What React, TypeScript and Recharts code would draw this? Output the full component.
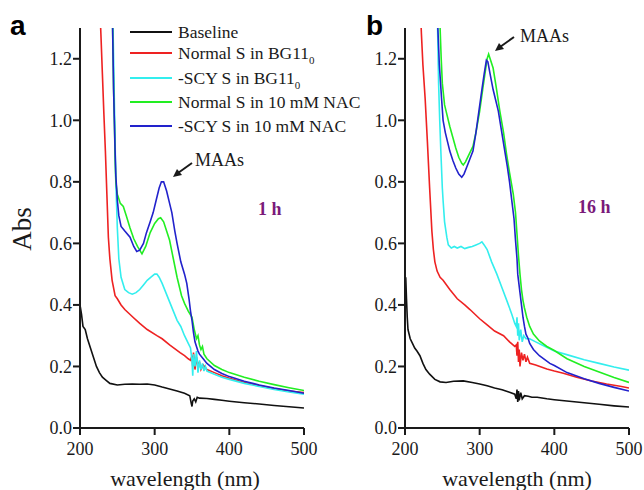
import React from 'react';
import { LineChart, Line, XAxis, YAxis } from 'recharts';

type Pt = [number, number];

// panel a (1 h)
const aBaseline: Pt[] = [
  [200, 0.40], [202, 0.37], [204, 0.33], [207, 0.32], [210, 0.29], [214, 0.26], [218, 0.23], [222, 0.20],
  [226, 0.18], [230, 0.165], [235, 0.155], [240, 0.145], [250, 0.14], [260, 0.142], [270, 0.143], [280, 0.142],
  [290, 0.143], [300, 0.14], [310, 0.133], [320, 0.127], [330, 0.12], [340, 0.113], [347, 0.105], [349, 0.08],
  [350, 0.07], [351, 0.088], [353, 0.095], [355, 0.085], [357, 0.1], [360, 0.097], [370, 0.096], [380, 0.093],
  [390, 0.09], [400, 0.087], [420, 0.082], [440, 0.078], [460, 0.073], [480, 0.069], [500, 0.065],
];
const aNormalBg: Pt[] = [
  [226, 1.40], [228, 1.28], [230, 1.15], [232, 1.02], [234, 0.9], [236, 0.76], [238, 0.62], [240, 0.55],
  [243, 0.48], [247, 0.43], [250, 0.42], [255, 0.40], [260, 0.385], [271, 0.36], [280, 0.34], [290, 0.32],
  [303, 0.30], [310, 0.29], [320, 0.27], [334, 0.245], [340, 0.235], [345, 0.225], [348, 0.22], [350, 0.235],
  [351, 0.20], [352, 0.245], [354, 0.19], [356, 0.23], [358, 0.20], [360, 0.215], [362, 0.19], [365, 0.205],
  [370, 0.19], [380, 0.18], [390, 0.17], [400, 0.162], [420, 0.148], [440, 0.138], [460, 0.128], [480, 0.12],
  [500, 0.115],
];
const aScyBg: Pt[] = [
  [243.5, 1.40], [245, 1.2], [246.5, 1.0], [248, 0.8], [250, 0.65], [252, 0.55], [255, 0.49], [260, 0.45],
  [265, 0.44], [270, 0.435], [275, 0.44], [280, 0.45], [285, 0.465], [290, 0.48], [295, 0.49], [300, 0.50],
  [303, 0.50], [306, 0.49], [310, 0.47], [315, 0.44], [320, 0.41], [325, 0.38], [330, 0.35], [335, 0.33],
  [340, 0.30], [345, 0.275], [348, 0.26], [350, 0.22], [351, 0.17], [352, 0.24], [354, 0.20], [356, 0.25],
  [358, 0.18], [360, 0.22], [362, 0.19], [364, 0.21], [366, 0.185], [368, 0.2], [370, 0.185], [380, 0.175],
  [390, 0.165], [400, 0.158], [420, 0.145], [440, 0.135], [460, 0.125], [480, 0.117], [500, 0.11],
];
const aNormalNac: Pt[] = [
  [243, 1.40], [244, 1.25], [245, 1.10], [246, 1.0], [247, 0.88], [248, 0.8], [250, 0.76], [254, 0.73],
  [258, 0.72], [262, 0.69], [267, 0.65], [272, 0.615], [277, 0.59], [280, 0.578], [283, 0.566], [288, 0.59],
  [294, 0.635], [300, 0.665], [305, 0.68], [308, 0.683], [312, 0.67], [316, 0.64], [320, 0.61], [325, 0.55],
  [330, 0.49], [336, 0.43], [340, 0.405], [345, 0.38], [350, 0.36], [353, 0.32], [356, 0.29], [358, 0.30],
  [360, 0.27], [362, 0.255], [364, 0.265], [366, 0.24], [370, 0.225], [380, 0.203], [390, 0.19], [400, 0.18],
  [420, 0.165], [440, 0.152], [460, 0.141], [480, 0.131], [500, 0.122],
];
const aScyNac: Pt[] = [
  [243, 1.40], [244, 1.25], [245, 1.10], [246, 1.0], [247, 0.9], [248, 0.82], [250, 0.74], [252, 0.69],
  [255, 0.655], [260, 0.64], [267, 0.62], [272, 0.59], [276, 0.574], [280, 0.578], [285, 0.60], [289, 0.635],
  [294, 0.67], [298, 0.70], [302, 0.74], [306, 0.78], [309, 0.80], [312, 0.80], [316, 0.77], [320, 0.73],
  [323, 0.70], [327, 0.64], [330, 0.60], [335, 0.54], [340, 0.50], [343, 0.47], [346, 0.42], [348, 0.38],
  [350, 0.35], [352, 0.31], [354, 0.28], [356, 0.265], [358, 0.25], [360, 0.24], [365, 0.225], [370, 0.21],
  [380, 0.19], [390, 0.177], [400, 0.167], [420, 0.152], [440, 0.14], [460, 0.13], [480, 0.122], [500, 0.113],
];

// panel b (16 h)
const bBaseline: Pt[] = [
  [200, 0.45], [201, 0.49], [202, 0.42], [203, 0.36], [204, 0.32], [207, 0.29], [210, 0.275], [213, 0.26],
  [216, 0.25], [220, 0.235], [224, 0.21], [228, 0.19], [233, 0.175], [240, 0.158], [247, 0.15], [255, 0.148],
  [265, 0.152], [278, 0.153], [290, 0.148], [300, 0.143], [310, 0.137], [320, 0.13], [330, 0.124], [340, 0.116],
  [347, 0.11], [349, 0.095], [350, 0.125], [351, 0.085], [352, 0.12], [353, 0.09], [355, 0.115], [357, 0.095],
  [360, 0.105], [365, 0.103], [370, 0.1], [377, 0.1], [390, 0.095], [400, 0.092], [420, 0.087], [440, 0.082],
  [460, 0.077], [480, 0.072], [500, 0.068],
];
const bNormalBg: Pt[] = [
  [220, 1.40], [222, 1.28], [224, 1.18], [227, 1.07], [230, 0.93], [233, 0.78], [236, 0.64], [238, 0.58],
  [240, 0.54], [243, 0.51], [247, 0.49], [251, 0.48], [260, 0.45], [270, 0.42], [280, 0.40], [287, 0.385],
  [300, 0.355], [310, 0.335], [320, 0.315], [332, 0.30], [340, 0.28], [347, 0.265], [349, 0.27], [350, 0.235],
  [351, 0.28], [352, 0.215], [353, 0.255], [354, 0.20], [356, 0.245], [358, 0.22], [360, 0.24], [362, 0.215],
  [364, 0.23], [367, 0.21], [375, 0.205], [390, 0.192], [400, 0.185], [412, 0.178], [430, 0.165], [450, 0.153],
  [470, 0.143], [490, 0.135], [500, 0.13],
];
const bScyBg: Pt[] = [
  [243, 1.40], [244, 1.25], [245, 1.12], [246.5, 1.0], [248, 0.9], [250, 0.78], [251, 0.74], [253, 0.67],
  [256, 0.62], [258, 0.595], [262, 0.585], [266, 0.59], [270, 0.585], [275, 0.59], [280, 0.583], [285, 0.587],
  [290, 0.59], [295, 0.595], [300, 0.60], [303, 0.605], [306, 0.595], [310, 0.58], [316, 0.54], [323, 0.50],
  [330, 0.455], [337, 0.41], [343, 0.37], [347, 0.34], [349, 0.33], [350, 0.36], [351, 0.30], [352, 0.34],
  [353, 0.285], [355, 0.32], [357, 0.28], [359, 0.30], [362, 0.29], [367, 0.29], [375, 0.28], [385, 0.268],
  [400, 0.25], [420, 0.236], [440, 0.222], [460, 0.21], [480, 0.198], [500, 0.188],
];
const bNormalNac: Pt[] = [
  [246, 1.40], [247, 1.30], [248.5, 1.2], [250, 1.12], [253, 1.05], [256, 1.02], [260, 0.98], [264, 0.945],
  [268, 0.91], [272, 0.88], [276, 0.86], [278, 0.855], [281, 0.865], [285, 0.885], [291, 0.915], [295, 0.96],
  [300, 1.03], [304, 1.10], [307, 1.15], [310, 1.20], [312, 1.215], [314, 1.20], [318, 1.17], [322, 1.11],
  [327, 1.03], [332, 0.96], [336, 0.89], [340, 0.83], [345, 0.76], [348, 0.70], [350, 0.63], [352, 0.56],
  [354, 0.50], [356, 0.45], [358, 0.415], [360, 0.39], [363, 0.36], [367, 0.33], [372, 0.305], [380, 0.283],
  [390, 0.265], [400, 0.252], [417, 0.225], [440, 0.2], [460, 0.182], [480, 0.164], [500, 0.148],
];
const bScyNac: Pt[] = [
  [243, 1.40], [244, 1.30], [246, 1.18], [249, 1.07], [251, 1.0], [254, 0.96], [257, 0.93], [260, 0.90],
  [264, 0.87], [268, 0.845], [272, 0.825], [276, 0.815], [279, 0.825], [283, 0.85], [287, 0.875], [291, 0.90],
  [295, 0.96], [299, 1.03], [303, 1.10], [306, 1.15], [309, 1.195], [311, 1.19], [314, 1.15], [318, 1.10],
  [321, 1.07], [325, 1.03], [329, 0.97], [333, 0.91], [337, 0.85], [340, 0.80], [343, 0.74], [346, 0.68],
  [348, 0.61], [350, 0.55], [351, 0.50], [352, 0.48], [354, 0.44], [356, 0.40], [358, 0.36], [360, 0.33],
  [362, 0.305], [365, 0.29], [367, 0.275], [372, 0.255], [380, 0.235], [394, 0.21], [400, 0.203], [417, 0.18],
  [440, 0.16], [460, 0.145], [480, 0.132], [500, 0.12],
];

const seriesNames = [
  'Baseline',
  'Normal S in BG11',
  '-SCY S in BG11',
  'Normal S in 10 mM NAC',
  '-SCY S in 10 mM NAC',
];
const seriesColors = ['#111111', '#ee2222', '#33eeee', '#22ee22', '#2222cc'];
const panelA = [aBaseline, aNormalBg, aScyBg, aNormalNac, aScyNac];
const panelB = [bBaseline, bNormalBg, bScyBg, bNormalNac, bScyNac];

const xTicks = [200, 300, 400, 500];
const yTicks = [0, 0.2, 0.4, 0.6, 0.8, 1.0, 1.2];

const serif = '"Liberation Serif", "Times New Roman", serif';
const axisColor = '#1a1a1a';

const toRows = (pts: Pt[]) => pts.map(([wl, abs]) => ({ wl, abs }));

const Panel = ({ series, width }: { series: Pt[][]; width: number }) => (
  <LineChart width={width} height={490} margin={{ top: 28, right: width - 304, left: 30, bottom: 22 }}>
    <XAxis
      type="number"
      dataKey="wl"
      domain={[200, 500]}
      ticks={xTicks}
      allowDataOverflow
      height={40}
      tickSize={7}
      tickMargin={7}
      axisLine={{ stroke: axisColor, strokeWidth: 2 }}
      tickLine={{ stroke: axisColor, strokeWidth: 2 }}
      tick={{ fill: axisColor, fontSize: 18, fontFamily: serif }}
    />
    <YAxis
      type="number"
      domain={[0, 1.3]}
      ticks={yTicks}
      allowDataOverflow
      width={50}
      tickSize={7}
      tickMargin={1}
      tickFormatter={(v: number) => v.toFixed(1)}
      axisLine={{ stroke: axisColor, strokeWidth: 2 }}
      tickLine={{ stroke: axisColor, strokeWidth: 2 }}
      tick={{ fill: axisColor, fontSize: 18, fontFamily: serif }}
    />
    {series.map((pts, i) => (
      <Line
        key={seriesNames[i]}
        data={toRows(pts)}
        dataKey="abs"
        type="linear"
        stroke={seriesColors[i]}
        strokeWidth={1.6}
        dot={false}
        isAnimationActive={false}
      />
    ))}
  </LineChart>
);

const legendY = [32, 53, 78, 102, 126];

export default function App() {
  return (
    <div style={{ position: 'absolute', left: 0, top: 0, width: 644, height: 490, background: '#fff' }}>
      <div style={{ position: 'absolute', left: 0, top: 0 }}>
        <Panel series={panelA} width={320} />
      </div>
      <div style={{ position: 'absolute', left: 325, top: 0 }}>
        <Panel series={panelB} width={319} />
      </div>
      <svg
        width={644}
        height={490}
        style={{ position: 'absolute', left: 0, top: 0, pointerEvents: 'none' }}
      >
        <text x={10} y={35} fontFamily='"Liberation Sans", Arial, sans-serif' fontWeight="bold" fontSize={28}>a</text>
        <text x={366} y={35} fontFamily='"Liberation Sans", Arial, sans-serif' fontWeight="bold" fontSize={28}>b</text>
        <text
          x={0}
          y={0}
          transform="translate(31,229) rotate(-90)"
          textAnchor="middle"
          fontFamily={serif}
          fontSize={27}
          fill={axisColor}
        >
          Abs
        </text>
        <text x={185} y={486} textAnchor="middle" fontFamily={serif} fontSize={22} fill={axisColor}>wavelength (nm)</text>
        <text x={517} y={486} textAnchor="middle" fontFamily={serif} fontSize={22} fill={axisColor}>wavelength (nm)</text>

        {seriesNames.map((name, i) => (
          <g key={name}>
            <line x1={130} x2={172} y1={legendY[i]} y2={legendY[i]} stroke={seriesColors[i]} strokeWidth={2} />
            <text x={178} y={legendY[i] + 6} fontFamily={serif} fontSize={17.5} fill={axisColor}>
              {name}
              {(i === 1 || i === 2) && (
                <tspan dy={5} fontSize={11}>0</tspan>
              )}
            </text>
          </g>
        ))}

        <text x={195} y={166} fontFamily={serif} fontSize={18} fill={axisColor}>MAAs</text>
        <line x1={192} y1={163} x2={178} y2={173} stroke={axisColor} strokeWidth={2} />
        <polygon points="173,177 177,169 182,175" fill={axisColor} />

        <text x={520} y={42} fontFamily={serif} fontSize={18} fill={axisColor}>MAAs</text>
        <line x1={514} y1={37} x2={500} y2={47} stroke={axisColor} strokeWidth={2} />
        <polygon points="495,51 499,43 504,49" fill={axisColor} />

        <text x={258} y={215} fontFamily={serif} fontWeight="bold" fontSize={18} fill="#7a1a7a">1 h</text>
        <text x={578} y={213} fontFamily={serif} fontWeight="bold" fontSize={18} fill="#7a1a7a">16 h</text>
      </svg>
    </div>
  );
}
